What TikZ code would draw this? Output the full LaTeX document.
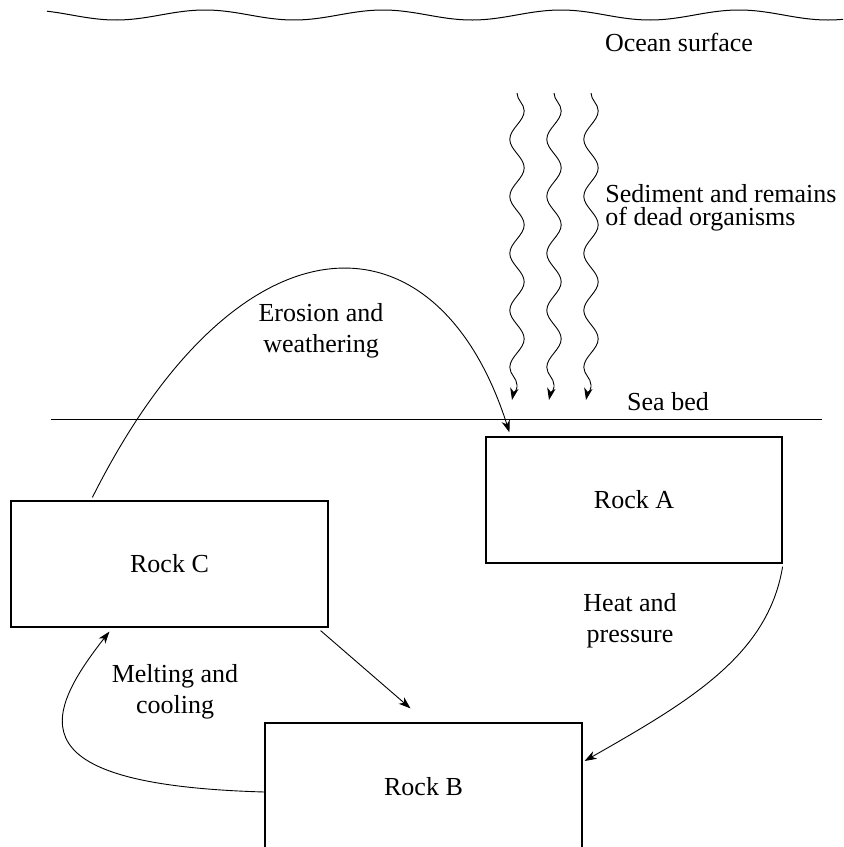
\documentclass[tikz,border=0pt]{standalone}
\usepackage{fontspec}
\setmainfont{Liberation Serif}
\usetikzlibrary{arrows.meta,calc,decorations.pathmorphing}

\begin{document}
\begin{tikzpicture}[
        x=0.5pt, y=-0.5pt,
        every node/.style={font=\fontsize{13}{15.5}\selectfont},
        rock/.style={rectangle, draw, line width=0.6pt, minimum width=158.5pt, minimum height=63pt, inner sep=0pt},
        txt/.style={align=center, inner sep=0pt},
        arrow/.style={-{Stealth[length=6pt,width=4.2pt,inset=1.8pt]}, line width=0.45pt}
    ]
        \clip (0,0) rectangle (843,847);

        % Ocean surface and sea bed
        \draw[line width=0.5pt] plot[domain=47:843, samples=160, smooth] (\x, {15-5*cos(2.0225*(\x-27))});
        \node[txt] (ocean) at (679,42) {Ocean surface};
        \coordinate (bedL) at (51,419);
        \coordinate (bedR) at (822,419);
        \draw[line width=0.5pt] (bedL) -- (bedR);
        \node[txt] (seabed) at (668,402) {Sea bed};

        % Rocks
        \node[rock, minimum width=148pt] (rockA) at (634,500) {Rock A};
        \node[rock, minimum height=64pt] (rockB) at (423.5,787) {Rock B};
        \node[rock] (rockC) at (169.5,564) {Rock C};

        % Sediment falling to the sea bed
        \foreach \xc [count=\i] in {517,554,591} {
            \coordinate (top\i) at (\xc,93);
            \coordinate (mid\i) at (\xc,387);
            \coordinate (tip\i) at ({\xc-5},400);
            \draw[arrow] decorate[decoration={snake, amplitude=3.6pt, segment length=28.5pt}] {(top\i) -- (mid\i)}
                .. controls +(-1,5) and +(1,-5) .. (tip\i);
        }
        \node[txt, anchor=west, align=left, font=\fontsize{13}{11.5}\selectfont] (sediment) at (605,208) {Sediment and remains\\of dead organisms};

        % Cycle arrows
        \draw[arrow] ($(rockC.north west)+(82,-3)$) .. controls (239,205) and (437,205) .. ($(rockA.north west)+(24,-4)$);
        \node[txt] (erosion) at (321,331) {Erosion and\\weathering};

        \draw[arrow] ($(rockA.south east)+(0,3)$) .. controls (768,656) and (688,702) .. ($(rockB.east)+(2,-26)$);
        \node[txt] (heat) at (630,621) {Heat and\\pressure};

        \draw[arrow] ($(rockC.south east)+(-8,3)$) -- ($(rockB.north)+(-13,-14)$);

        \draw[arrow] ($(rockB.west)+(0,5)$) .. controls (20,785) and (40,720) .. ($(rockC.south west)+(99,4)$);
        \node[txt] (melting) at (175,692) {Melting and\\cooling};
    \end{tikzpicture}
\end{document}
